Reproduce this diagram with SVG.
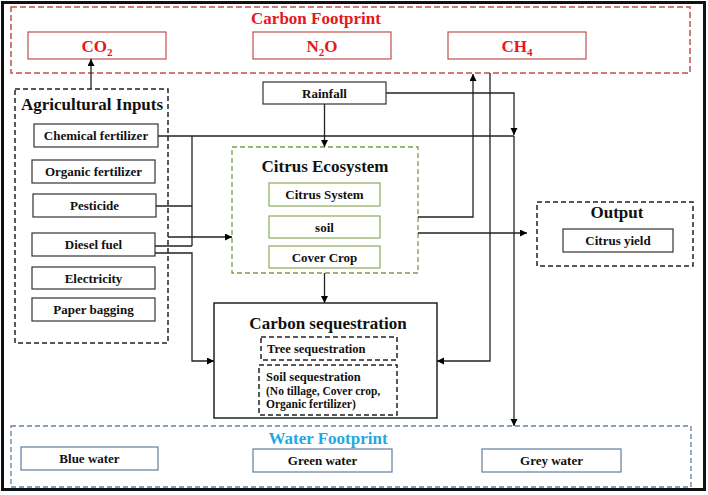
<svg xmlns="http://www.w3.org/2000/svg" width="708" height="495" viewBox="0 0 708 495">
<defs>
<marker id="arr" markerUnits="userSpaceOnUse" markerWidth="8" markerHeight="8" refX="7" refY="3.5" orient="auto">
<path d="M0,0 L7,3.5 L0,7 z" fill="#000"/>
</marker>
<style>
text{font-family:"Liberation Serif","Times New Roman",serif;font-weight:bold;text-anchor:middle;}
.t17{font-size:17px;fill:#111;}
.t13{font-size:13px;fill:#111;}
.red{font-size:17px;fill:#e3191c;}
.box{fill:#fff;stroke:#333;stroke-width:1.2;}
.rbox{fill:#fff;stroke:#c0504d;stroke-width:1.2;}
.gbox{fill:#fff;stroke:#8aab5b;stroke-width:1.2;}
.bbox{fill:#fff;stroke:#5f7f9f;stroke-width:1.2;}
.dash{fill:none;stroke:#222;stroke-width:1.5;stroke-dasharray:5 3;}
.conn{fill:none;stroke:#222;stroke-width:1.3;}
</style>
</defs>
<rect x="2.5" y="2.5" width="702" height="487" fill="#fff" stroke="#111" stroke-width="3"/>

<g id="carbon-footprint">
<rect x="11" y="7" width="679" height="66" fill="none" stroke="#c0504d" stroke-width="1.5" stroke-dasharray="6 3"/>
<text x="316" y="24" class="red">Carbon Footprint</text>
<g id="co2"><rect x="28" y="32" width="138" height="27" class="rbox"/><text x="97" y="52" class="red">CO<tspan font-size="11" dy="4">2</tspan></text></g>
<g id="n2o"><rect x="253" y="32" width="138" height="27" class="rbox"/><text x="322" y="52" class="red">N<tspan font-size="11" dy="4">2</tspan><tspan dy="-4">O</tspan></text></g>
<g id="ch4"><rect x="448" y="32" width="138" height="27" class="rbox"/><text x="517" y="52" class="red">CH<tspan font-size="11" dy="4">4</tspan></text></g>
</g>

<g id="agricultural-inputs">
<rect x="15" y="89" width="153" height="254" class="dash"/>
<text x="92" y="110" class="t17">Agricultural Inputs</text>
<g id="chemical-fertilizer"><rect x="34" y="124" width="124" height="23" class="box"/><text x="96" y="140" class="t13">Chemical fertilizer</text></g>
<g id="organic-fertilizer"><rect x="32" y="160" width="123" height="23" class="box"/><text x="93.5" y="176" class="t13">Organic fertilizer</text></g>
<g id="pesticide"><rect x="33" y="194" width="123" height="23" class="box"/><text x="94.5" y="210" class="t13">Pesticide</text></g>
<g id="diesel-fuel"><rect x="32" y="233" width="123" height="23" class="box"/><text x="93.5" y="249" class="t13">Diesel fuel</text></g>
<g id="electricity"><rect x="32" y="267" width="123" height="22" class="box"/><text x="93.5" y="282.5" class="t13">Electricity</text></g>
<g id="paper-bagging"><rect x="32" y="298" width="123" height="23" class="box"/><text x="93.5" y="314" class="t13">Paper bagging</text></g>
</g>

<g id="rainfall"><rect x="263" y="82" width="123" height="22" class="box"/><text x="324.5" y="97.5" class="t13">Rainfall</text></g>

<g id="citrus-ecosystem">
<rect x="232" y="147" width="186" height="126" fill="none" stroke="#77a043" stroke-width="1.3" stroke-dasharray="5 3"/>
<text x="325" y="172" class="t17">Citrus Ecosystem</text>
<g id="citrus-system"><rect x="269" y="183" width="111" height="23" class="gbox"/><text x="324.5" y="199" class="t13">Citrus System</text></g>
<g id="soil"><rect x="269" y="216" width="111" height="22" class="gbox"/><text x="324.5" y="231.5" class="t13">soil</text></g>
<g id="cover-crop"><rect x="269" y="246" width="111" height="22" class="gbox"/><text x="324.5" y="261.5" class="t13">Cover Crop</text></g>
</g>

<g id="output">
<rect x="537" y="202" width="156" height="64" class="dash"/>
<text x="617" y="218" class="t17">Output</text>
<g id="citrus-yield"><rect x="563" y="229" width="110" height="23" class="box"/><text x="618" y="245" class="t13">Citrus yield</text></g>
</g>

<g id="carbon-sequestration">
<rect x="214" y="303" width="223" height="115" fill="#fff" stroke="#222" stroke-width="1.5"/>
<text x="328" y="329" class="t17">Carbon sequestration</text>
<g id="tree-sequestration"><rect x="261" y="337" width="136" height="23" class="dash"/><text x="267" y="353" class="t13" style="text-anchor:start;font-size:12.5px">Tree sequestration</text></g>
<g id="soil-sequestration"><rect x="259" y="365" width="138" height="50" class="dash"/>
<text x="266" y="381" class="t13" style="text-anchor:start;font-size:12.5px">Soil sequestration</text>
<text x="266" y="395" class="t13" style="text-anchor:start;font-size:11.5px">(No tillage, Cover crop,</text>
<text x="266" y="408" class="t13" style="text-anchor:start;font-size:11.5px">Organic fertilizer)</text>
</g>
</g>

<g id="water-footprint">
<rect x="11" y="426" width="680" height="61" fill="none" stroke="#5f83a8" stroke-width="1.3" stroke-dasharray="5 3"/>
<text x="328" y="444" style="font-size:17px;fill:#1fa9e1">Water Footprint</text>
<g id="blue-water"><rect x="21" y="447" width="137" height="23" class="bbox"/><text x="89.5" y="463" class="t13">Blue water</text></g>
<g id="green-water"><rect x="253" y="449" width="139" height="23" class="bbox"/><text x="322.5" y="465" class="t13">Green water</text></g>
<g id="grey-water"><rect x="482" y="449" width="139" height="23" class="bbox"/><text x="551.5" y="465" class="t13">Grey water</text></g>
</g>

<g id="connectors" class="conn">
<path d="M91,89 V59" marker-end="url(#arr)"/>
<path d="M158,136 H514"/>
<path d="M192,136 V246"/>
<path d="M156,206 H192"/>
<path d="M155,246 H192"/>
<path d="M168,237 H232" marker-end="url(#arr)"/>
<path d="M155,253 H192 V361 H214" marker-end="url(#arr)"/>
<path d="M324.5,104 V147" marker-end="url(#arr)"/>
<path d="M386,93 H514 V135" marker-end="url(#arr)"/>
<path d="M514,136 V426" marker-end="url(#arr)"/>
<path d="M418,217 H473 V74" marker-end="url(#arr)"/>
<path d="M490,73 V361 H437" marker-end="url(#arr)"/>
<path d="M418,233 H527" marker-end="url(#arr)"/>
<path d="M324.5,273 V303" marker-end="url(#arr)"/>
</g>
</svg>
